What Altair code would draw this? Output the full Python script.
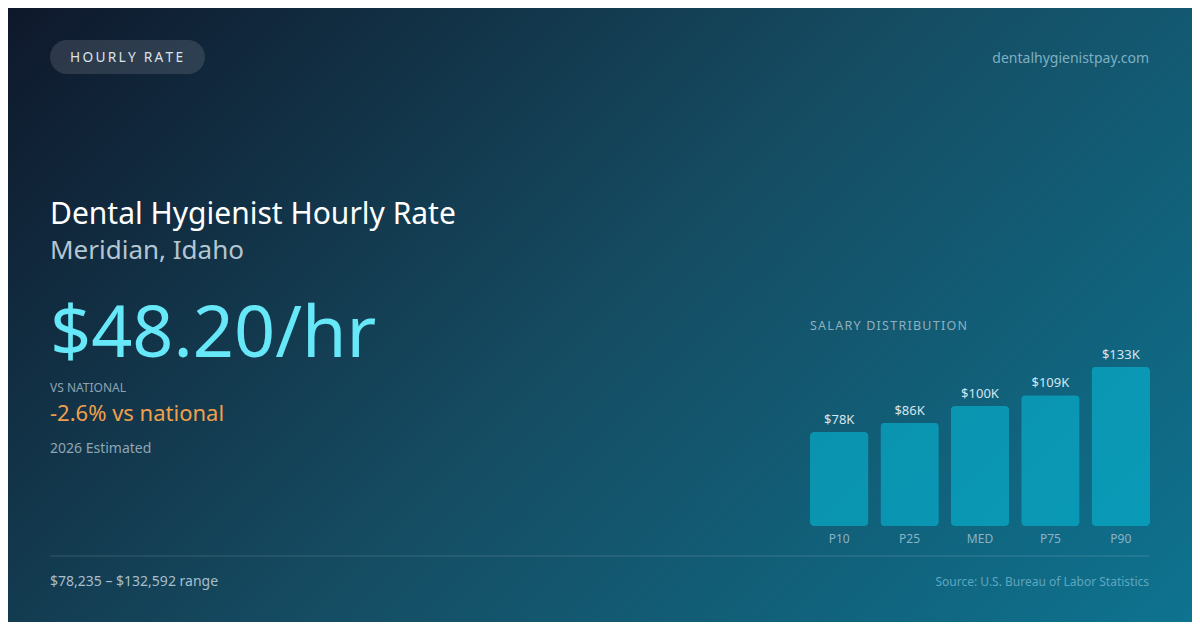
import altair as alt
import pandas as pd

# ---- data ----
percentiles = ["P10", "P25", "MED", "P75", "P90"]
salaries = [78235, 86000, 100000, 109000, 132592]
salary_labels = ["$78K", "$86K", "$100K", "$109K", "$133K"]

badge_text = "HOURLY RATE"
site_text = "dentalhygienistpay.com"
title_text = "Dental Hygienist Hourly Rate"
location_text = "Meridian, Idaho"
rate_text = "$48.20/hr"
vs_label = "VS NATIONAL"
vs_text = "-2.6% vs national"
year_text = "2026 Estimated"
range_text = "$78,235 – $132,592 range"
source_text = "Source: U.S. Bureau of Labor Statistics"
dist_title = "SALARY DISTRIBUTION"

W, H = 1184, 614
FONT = "Noto Sans"


def spaced(s, sp):
    return sp.join(list(s))


one = pd.DataFrame({"k": [0]})

grad = alt.LinearGradient(
    gradient="linear",
    stops=[
        alt.GradientStop(color="#0f172a", offset=0),
        alt.GradientStop(color="#154c62", offset=0.5),
        alt.GradientStop(color="#0e7491", offset=1),
    ],
    x1=0, y1=0, x2=1.1955, y2=0.6277,
)

bg = alt.Chart(one).mark_rect(color=grad).encode(
    x=alt.value(-8), x2=alt.value(1192), y=alt.value(-8), y2=alt.value(622)
)

pill = alt.Chart(one).mark_rect(color="#ffffff", opacity=0.12, cornerRadius=17).encode(
    x=alt.value(42), x2=alt.value(197), y=alt.value(32), y2=alt.value(66)
)


def txt(text, x, y, size, color, align="left", weight="normal", opacity=1.0):
    return alt.Chart(one).mark_text(
        text=text, align=align, baseline="alphabetic", font=FONT,
        fontSize=size, color=color, fontWeight=weight, opacity=opacity,
    ).encode(x=alt.value(x), y=alt.value(y))


texts = [
    txt(spaced(badge_text, "\u2009"), 62, 54, 13.7, "#dbe3ea"),
    txt(site_text, 1141, 55, 14, "#7fb0c2", align="right"),
    txt(title_text, 42, 216, 30, "#ffffff"),
    txt(location_text, 42, 251, 26, "#b4c6d2"),
    txt(rate_text, 42, 349, 72, "#67e8f9"),
    txt(vs_label, 42, 384, 12, "#8fa3b3"),
    txt(vs_text, 42, 413, 22, "#f0a04b"),
    txt(year_text, 42, 445, 14, "#8ea6b5"),
    txt(range_text, 42, 578, 14, "#a9bfcc"),
    txt(source_text, 1141, 578, 12, "#5fa6bf", align="right"),
    txt(spaced(dist_title, "\u200a"), 802, 322, 12.5, "#8fb0c0"),
]

divider = alt.Chart(one).mark_rule(color="#ffffff", opacity=0.15, strokeWidth=1).encode(
    x=alt.value(42), x2=alt.value(1141), y=alt.value(548)
)

dist = pd.DataFrame({"pct": percentiles, "value": salaries, "label": salary_labels})

xs = alt.X("pct:N", sort=percentiles,
           scale=alt.Scale(domain=percentiles, range=[802, 1142], paddingInner=0.17, paddingOuter=0),
           axis=None)
ys = alt.Y("value:Q", scale=alt.Scale(domain=[0, 100000], range=[518, 398], nice=False, zero=True),
           axis=None)

bars = alt.Chart(dist).mark_bar(color="#06b6d4", opacity=0.62, cornerRadius=4).encode(
    x=xs, y=ys, y2=alt.value(518)
)

val_labels = alt.Chart(dist).mark_text(
    font=FONT, fontSize=13, color="#d5e5ee", baseline="alphabetic", dy=-8
).encode(x=xs, y=ys, text="label:N")

cat_labels = alt.Chart(dist).mark_text(
    font=FONT, fontSize=12, color="#8ab3c5", baseline="alphabetic"
).encode(x=xs, y=alt.value(535), text="pct:N")

chart = alt.layer(bg, pill, divider, bars, val_labels, cat_labels, *texts).properties(
    width=W, height=H, padding=0, autosize=alt.AutoSizeParams(type="none"),
    background="#0f172a",
).configure_view(stroke=None)

chart.save("out.html", embed_options={"renderer": "svg", "actions": False})
